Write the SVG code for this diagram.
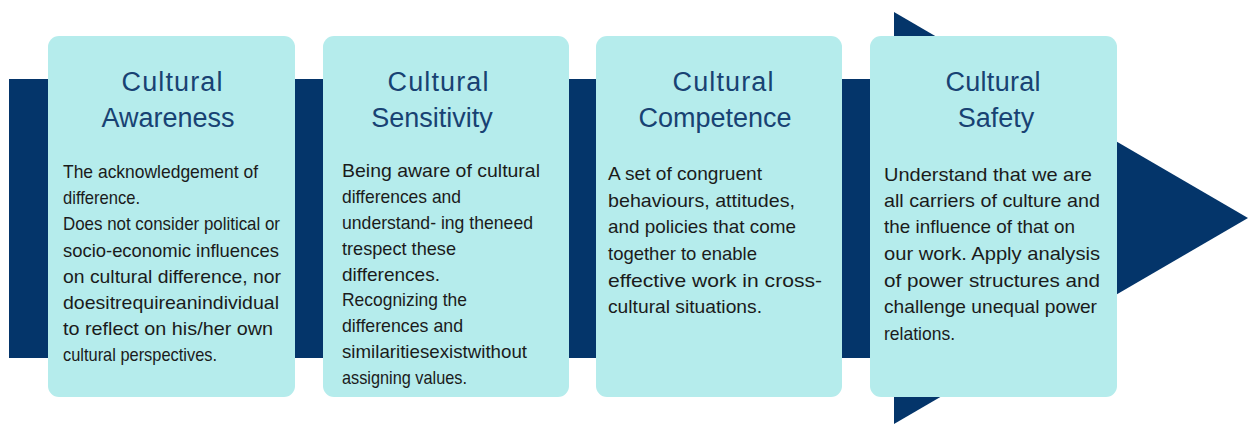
<svg xmlns="http://www.w3.org/2000/svg" width="1248" height="424" viewBox="0 0 1248 424">
  <style>
    .card { fill: #b5ecec; }
    .band { fill: #04356a; }
    .title { font-family: "Liberation Sans", Arial, sans-serif; font-size: 27px; fill: #184273; text-anchor: middle; }
    .body { font-family: "Liberation Sans", Arial, sans-serif; font-size: 19px; fill: #1b1b1b; }
  </style>
  <rect width="1248" height="424" fill="#ffffff"/>

  <!-- Progression arrow running behind the four stages -->
  <g id="flow-arrow">
    <rect class="band" x="9" y="79" width="886" height="279"/>
    <polygon class="band" points="894,12 1248,218 894,424"/>
  </g>

  <g id="awareness">
    <rect class="card" x="48" y="36" width="247" height="361" rx="11"/>
    <text class="title" x="172" y="91" textLength="101">Cultural</text>
    <text class="title" x="168" y="127">Awareness</text>
    <text class="body" x="63" y="178" textLength="195" lengthAdjust="spacingAndGlyphs">The acknowledgement of</text>
    <text class="body" x="63" y="204" textLength="77" lengthAdjust="spacingAndGlyphs">difference.</text>
    <text class="body" x="63" y="230" textLength="217" lengthAdjust="spacingAndGlyphs">Does not consider political or</text>
    <text class="body" x="63" y="257" textLength="216" lengthAdjust="spacingAndGlyphs">socio-economic influences</text>
    <text class="body" x="63" y="283" textLength="218" lengthAdjust="spacingAndGlyphs">on cultural difference, nor</text>
    <text class="body" x="63" y="309" textLength="216" lengthAdjust="spacingAndGlyphs">doesitrequireanindividual</text>
    <text class="body" x="63" y="335" textLength="210" lengthAdjust="spacingAndGlyphs">to reflect on his/her own</text>
    <text class="body" x="63" y="361" textLength="154" lengthAdjust="spacingAndGlyphs">cultural perspectives.</text>
  </g>

  <g id="sensitivity">
    <rect class="card" x="323" y="36" width="246" height="361" rx="11"/>
    <text class="title" x="438" y="91" textLength="101">Cultural</text>
    <text class="title" x="432" y="127">Sensitivity</text>
    <text class="body" x="342" y="177" textLength="198" lengthAdjust="spacingAndGlyphs">Being aware of cultural</text>
    <text class="body" x="342" y="203" textLength="119" lengthAdjust="spacingAndGlyphs">differences and</text>
    <text class="body" x="342" y="229" textLength="191" lengthAdjust="spacingAndGlyphs">understand- ing theneed</text>
    <text class="body" x="342" y="255" textLength="114" lengthAdjust="spacingAndGlyphs">trespect these</text>
    <text class="body" x="342" y="281" textLength="98" lengthAdjust="spacingAndGlyphs">differences.</text>
    <text class="body" x="342" y="306" textLength="125" lengthAdjust="spacingAndGlyphs">Recognizing the</text>
    <text class="body" x="342" y="332" textLength="121" lengthAdjust="spacingAndGlyphs">differences and</text>
    <text class="body" x="342" y="358" textLength="185" lengthAdjust="spacingAndGlyphs">similaritiesexistwithout</text>
    <text class="body" x="342" y="384" textLength="125" lengthAdjust="spacingAndGlyphs">assigning values.</text>
  </g>

  <g id="competence">
    <rect class="card" x="596" y="36" width="246" height="361" rx="11"/>
    <text class="title" x="723" y="91" textLength="101">Cultural</text>
    <text class="title" x="715" y="127">Competence</text>
    <text class="body" x="608" y="180" textLength="154" lengthAdjust="spacingAndGlyphs">A set of congruent</text>
    <text class="body" x="608" y="207" textLength="187" lengthAdjust="spacingAndGlyphs">behaviours, attitudes,</text>
    <text class="body" x="608" y="233" textLength="188" lengthAdjust="spacingAndGlyphs">and policies that come</text>
    <text class="body" x="608" y="260" textLength="149" lengthAdjust="spacingAndGlyphs">together to enable</text>
    <text class="body" x="608" y="287" textLength="214" lengthAdjust="spacingAndGlyphs">effective work in cross-</text>
    <text class="body" x="608" y="313" textLength="154" lengthAdjust="spacingAndGlyphs">cultural situations.</text>
  </g>

  <g id="safety">
    <rect class="card" x="870" y="36" width="247" height="361" rx="11"/>
    <text class="title" x="993" y="91" textLength="95">Cultural</text>
    <text class="title" x="996" y="127">Safety</text>
    <text class="body" x="884" y="181" textLength="208" lengthAdjust="spacingAndGlyphs">Understand that we are</text>
    <text class="body" x="884" y="207" textLength="216" lengthAdjust="spacingAndGlyphs">all carriers of culture and</text>
    <text class="body" x="884" y="233" textLength="191" lengthAdjust="spacingAndGlyphs">the influence of that on</text>
    <text class="body" x="884" y="260" textLength="216" lengthAdjust="spacingAndGlyphs">our work. Apply analysis</text>
    <text class="body" x="884" y="287" textLength="216" lengthAdjust="spacingAndGlyphs">of power structures and</text>
    <text class="body" x="884" y="313" textLength="213" lengthAdjust="spacingAndGlyphs">challenge unequal power</text>
    <text class="body" x="884" y="340" textLength="71" lengthAdjust="spacingAndGlyphs">relations.</text>
  </g>
</svg>
